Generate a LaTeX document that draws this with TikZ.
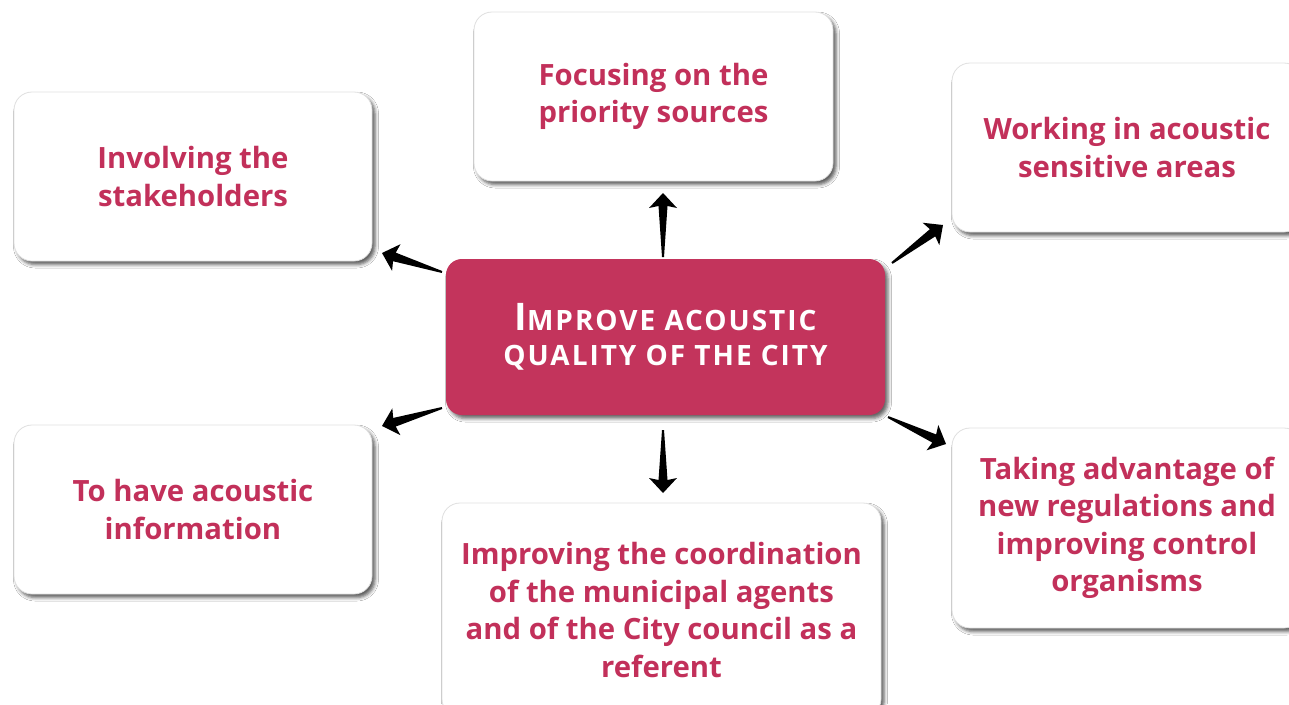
\documentclass[tikz,border=0pt]{standalone}
\usepackage{fontspec}
\setmainfont{Open Sans}
\newfontfamily\capsfont{Open Sans}[LetterSpace=7]
\usetikzlibrary{calc,shadows.blur}
\definecolor{crim}{HTML}{C3345C}
\definecolor{crimtext}{HTML}{C2305A}
\tikzset{
  goal/.style={draw=black!12, line width=0.8pt, fill=white, rounded corners=18pt,
    blur shadow={shadow xshift=3pt, shadow yshift=-3.5pt, shadow blur radius=3.5pt, shadow opacity=65},
    align=center, text=crimtext, font=\bfseries\fontsize{29.3}{37.5}\selectfont, inner sep=0pt},
  core/.style={fill=crim, rounded corners=16pt,
    blur shadow={shadow xshift=3pt, shadow yshift=-3.5pt, shadow blur radius=3.5pt, shadow opacity=60},
    text=white, align=center, inner sep=0pt, minimum width=439pt, minimum height=156pt},
  wedge/.style={fill=black},
}
\newcommand\wedgearrow[2]{%
  \coordinate (wa-n) at ($(#2)!13pt!(#1)$);
  \coordinate (wa-w) at ($(#2)!15pt!(#1)$);
  \fill[wedge] ($(#1)!1pt!90:(#2)$) -- ($(wa-n)!4.5pt!90:(#2)$) -- ($(wa-w)!14pt!90:(#2)$) -- (#2)
    -- ($(wa-w)!14pt!-90:(#2)$) -- ($(wa-n)!4.5pt!-90:(#2)$) -- ($(#1)!1pt!-90:(#2)$) -- cycle;
}
\newcommand\bigsc[2]{{\fontsize{38}{38}\selectfont #1}#2}
\begin{document}
\begin{tikzpicture}[x=1pt,y=-1pt]
\clip (0,0) rectangle (1289,704);
\fill[white] (0,0) rectangle (1289,704);

\node[goal, minimum width=359pt, minimum height=169pt] (top) at (653.5,96.5) {Focusing on the\\priority sources};
\node[goal, minimum width=358pt, minimum height=169pt] (tl) at (193,176.5) {Involving the\\stakeholders};
\node[goal, minimum width=350pt, minimum height=169pt] (tr) at (1127,147.5) {Working in acoustic\\sensitive areas};
\node[goal, minimum width=358pt, minimum height=169pt] (bl) at (193,509.5) {To have acoustic\\information};
\node[goal, minimum width=439pt, minimum height=214pt] (bc) at (661.5,610) {Improving the coordination\\of the municipal agents\\and of the City council as a\\referent};
\node[goal, minimum width=350pt, minimum height=200pt] (br) at (1127,528) {Taking advantage of\\new regulations and\\improving control\\organisms};

\node[core, font=\capsfont\bfseries\fontsize{28}{35}\selectfont] (c) at (665.5,337)
  {\bigsc{I}{MPROVE ACOUSTIC}\\QUALITY OF THE CITY};

\coordinate (t1) at (663,257); \coordinate (h1) at (663,193);
\coordinate (t2) at (442,272); \coordinate (h2) at (382,253);
\coordinate (t3) at (892,263); \coordinate (h3) at (943,225);
\coordinate (t4) at (442,408); \coordinate (h4) at (382,426);
\coordinate (t5) at (663,430); \coordinate (h5) at (663,493);
\coordinate (t6) at (888,417); \coordinate (h6) at (946,444);
\wedgearrow{t1}{h1}
\wedgearrow{t2}{h2}
\wedgearrow{t3}{h3}
\wedgearrow{t4}{h4}
\wedgearrow{t5}{h5}
\wedgearrow{t6}{h6}
\end{tikzpicture}
\end{document}
